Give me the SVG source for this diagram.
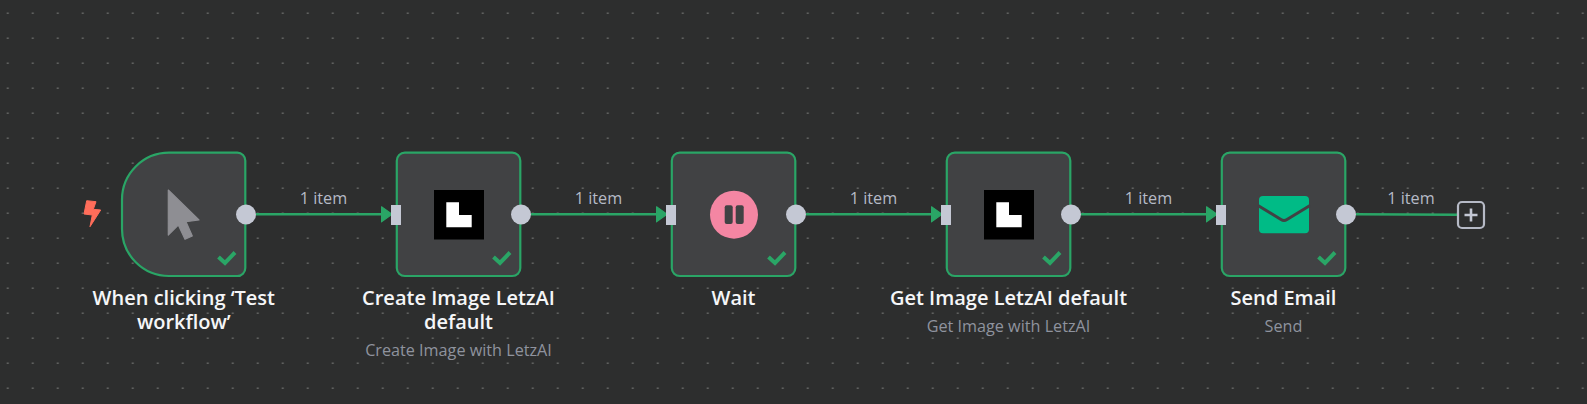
<svg xmlns="http://www.w3.org/2000/svg" width="1587" height="404" viewBox="0 0 1587 404">
<style>
.box{fill:#414244;stroke:#2aa566;stroke-width:2.2}
.check{fill:none;stroke:#2aa566;stroke-width:4}
.in{fill:#c4c8d4}
.out{fill:#c4c8d4}
.edge{fill:none;stroke:#2aa566;stroke-width:2.4}
.lab{font:16.2px "Open Sans",sans-serif;fill:#b6bac6;text-anchor:middle}
.t{font:600 20px "Open Sans",sans-serif;fill:#f5f6f8;text-anchor:middle}
.s{font:16.200px "Open Sans",sans-serif;fill:#8f939e;text-anchor:middle}
</style>
<defs>
<pattern id="dots" width="25" height="25" patternUnits="userSpaceOnUse" x="-4.5" y="1">
<rect x="11.5" y="11.5" width="1.6" height="1.4" fill="#767876"/>
</pattern>
<marker id="arrow" markerUnits="userSpaceOnUse" markerWidth="14" markerHeight="18" refX="11.5" refY="8.5" orient="auto">
<path d="M1 1L11.500 8.500L1 16Z" fill="#2aa566" stroke="#2aa566" stroke-width="1.200" stroke-linejoin="round"/>
</marker>
<path id="tick" class="check" d="M0 5L6.500 11L16.500 0.500"/>
</defs>
<rect width="1587" height="404" fill="#2d2e2e"/>
<rect width="1587" height="404" fill="url(#dots)"/>
<g id="connectors">
<path class="edge" marker-end="url(#arrow)" d="M256 214.300H392"/>
<path class="edge" marker-end="url(#arrow)" d="M531 214.300H667"/>
<path class="edge" marker-end="url(#arrow)" d="M806 214.300H942"/>
<path class="edge" marker-end="url(#arrow)" d="M1081 214.300H1217"/>
<path class="edge" d="M1356 214.300L1458 214.800"/>
<text class="lab" x="323.500" y="204">1 item</text>
<text class="lab" x="598.500" y="204">1 item</text>
<text class="lab" x="873.500" y="204">1 item</text>
<text class="lab" x="1148.500" y="204">1 item</text>
<text class="lab" x="1411" y="204">1 item</text>
</g>
<g id="trigger-bolt">
<path d="M86.700 200.700L96 201.700L93.300 209.300L100.700 210L90 226.700L92.300 215L84 214Z" fill="#ff6d5a" stroke="#ff6d5a" stroke-width="1" stroke-linejoin="round"/>
</g>
<g id="node-trigger">
<path class="box" d="M169 152.700H237A8 8 0 0 1 245.300 161V267.700A8 8 0 0 1 237 276H169A47 47 0 0 1 122 229V199.700A47 47 0 0 1 169 152.700Z"/>
<path d="M168.300 190L199 220L186 221.700L192.300 236L185 239.300L178.300 225L168.300 235Z" fill="#8e8e93" stroke="#8e8e93" stroke-width="1.200" stroke-linejoin="round"/>
<use href="#tick" x="218.500" y="252"/>
<circle class="out" cx="246" cy="214.500" r="10"/>
<text class="t" x="183.800" y="304.500">When clicking ‘Test</text>
<text class="t" x="183.800" y="329">workflow’</text>
</g>
<g id="node-create">
<rect class="box" x="396.800" y="152.700" width="123.500" height="123.300" rx="8"/>
<rect x="434" y="190" width="50" height="49.500" fill="#000"/>
<path d="M446.300 202.300H459V215H471.700V227.300H446.300Z" fill="#fff"/>
<use href="#tick" x="493.500" y="252"/>
<rect class="in" x="391" y="205" width="10" height="20"/>
<circle class="out" cx="521" cy="214.500" r="10"/>
<text class="t" x="458.500" y="304.500">Create Image LetzAI</text>
<text class="t" x="458.500" y="329">default</text>
<text class="s" x="458.500" y="355.500">Create Image with LetzAI</text>
</g>
<g id="node-wait">
<rect class="box" x="671.800" y="152.700" width="123.500" height="123.300" rx="8"/>
<circle cx="734" cy="214.700" r="24" fill="#f486a3"/>
<rect x="724.700" y="205.300" width="8" height="18.700" rx="2" fill="#414244"/>
<rect x="735.700" y="205.300" width="8" height="18.700" rx="2" fill="#414244"/>
<use href="#tick" x="768.500" y="252"/>
<rect class="in" x="666" y="205" width="10" height="20"/>
<circle class="out" cx="796" cy="214.500" r="10"/>
<text class="t" x="733.500" y="304.500">Wait</text>
</g>
<g id="node-get">
<rect class="box" x="946.800" y="152.700" width="123.500" height="123.300" rx="8"/>
<rect x="984" y="190" width="50" height="49.500" fill="#000"/>
<path d="M996.300 202.300H1009V215H1021.700V227.300H996.300Z" fill="#fff"/>
<use href="#tick" x="1043.500" y="252"/>
<rect class="in" x="941" y="205" width="10" height="20"/>
<circle class="out" cx="1071" cy="214.500" r="10"/>
<text class="t" x="1008.500" y="304.500">Get Image LetzAI default</text>
<text class="s" x="1008.500" y="331.500">Get Image with LetzAI</text>
</g>
<g id="node-email">
<rect class="box" x="1221.800" y="152.700" width="123.500" height="123.300" rx="8"/>
<rect x="1259" y="196" width="50" height="37.300" rx="4" fill="#00bb86"/>
<path d="M1258 205.500L1281 219.500Q1284 221.500 1287 219.500L1310 205.500" fill="none" stroke="#414244" stroke-width="3"/>
<use href="#tick" x="1318.500" y="252"/>
<rect class="in" x="1216" y="205" width="10" height="20"/>
<circle class="out" cx="1346" cy="214.500" r="10"/>
<text class="t" x="1283.500" y="304.500">Send Email</text>
<text class="s" x="1283.500" y="331.500">Send</text>
</g>
<g id="node-add">
<rect x="1458" y="202" width="26" height="26" rx="4" fill="#2d2e2e" stroke="#b6bac6" stroke-width="2.200"/>
<path d="M1471 208.500V221.500M1464.500 215H1477.500" stroke="#c4c8d4" stroke-width="2.600" fill="none"/>
</g>
</svg>
